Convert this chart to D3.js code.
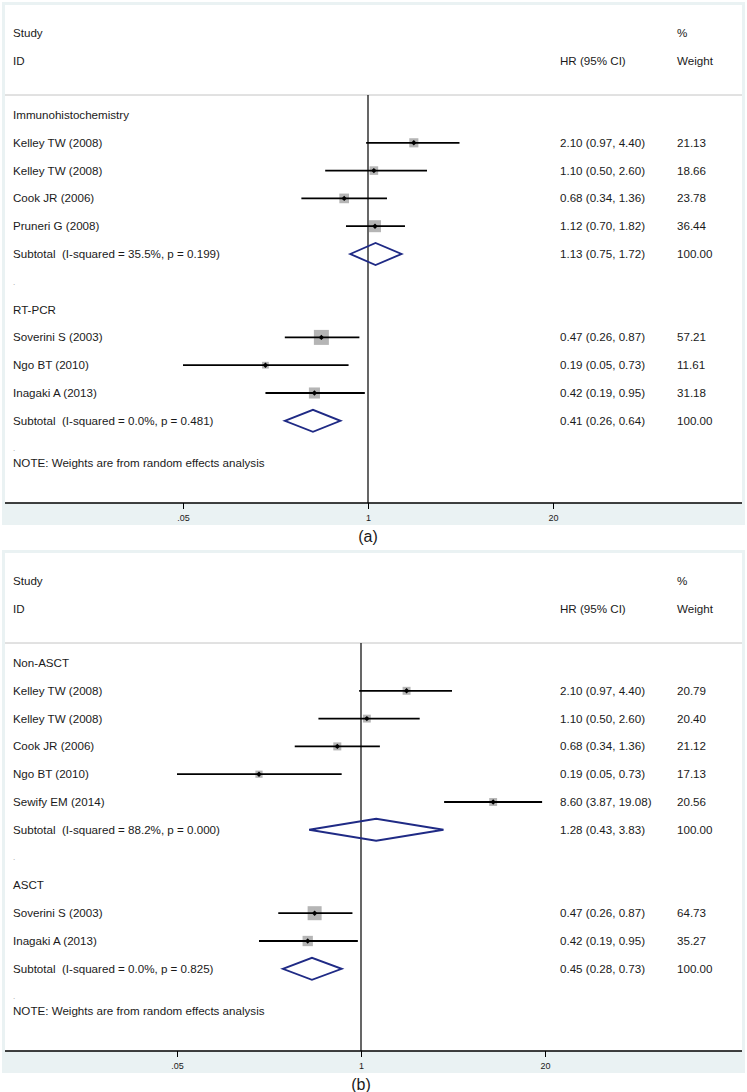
<!DOCTYPE html>
<html>
<head>
<meta charset="utf-8">
<script src="https://cdn.jsdelivr.net/npm/d3@7"></script>
<style>
  body { margin: 0; background: #fff; }
  text { font-family: "Liberation Sans", Arial, sans-serif; fill: #1a1a1a; white-space: pre; }
</style>
</head>
<body>
<div id="chart"></div>
<script>
// panel (a): by detection method
let studyA = ["Immunohistochemistry", "Kelley TW (2008)", "Kelley TW (2008)", "Cook JR (2006)", "Pruneri G (2008)",
  "Subtotal  (I-squared = 35.5%, p = 0.199)", ".", "RT-PCR", "Soverini S (2003)", "Ngo BT (2010)",
  "Inagaki A (2013)", "Subtotal  (I-squared = 0.0%, p = 0.481)"];
let kindA = ["group", "study", "study", "study", "study", "sub", "blank", "group", "study", "study", "study", "sub"];
let hrA = [null, 2.10, 1.10, 0.68, 1.12, 1.13, null, null, 0.47, 0.19, 0.42, 0.41];
let loA = [null, 0.97, 0.50, 0.34, 0.70, 0.75, null, null, 0.26, 0.05, 0.19, 0.26];
let hiA = [null, 4.40, 2.60, 1.36, 1.82, 1.72, null, null, 0.87, 0.73, 0.95, 0.64];
let weightA = [null, 21.13, 18.66, 23.78, 36.44, 100.00, null, null, 57.21, 11.61, 31.18, 100.00];

// panel (b): by treatment
let studyB = ["Non-ASCT", "Kelley TW (2008)", "Kelley TW (2008)", "Cook JR (2006)", "Ngo BT (2010)",
  "Sewify EM (2014)", "Subtotal  (I-squared = 88.2%, p = 0.000)", ".", "ASCT", "Soverini S (2003)",
  "Inagaki A (2013)", "Subtotal  (I-squared = 0.0%, p = 0.825)"];
let kindB = ["group", "study", "study", "study", "study", "study", "sub", "blank", "group", "study", "study", "sub"];
let hrB = [null, 2.10, 1.10, 0.68, 0.19, 8.60, 1.28, null, null, 0.47, 0.42, 0.45];
let loB = [null, 0.97, 0.50, 0.34, 0.05, 3.87, 0.43, null, null, 0.26, 0.19, 0.28];
let hiB = [null, 4.40, 2.60, 1.36, 0.73, 19.08, 3.83, null, null, 0.87, 0.95, 0.73];
let weightB = [null, 20.79, 20.40, 21.12, 17.13, 20.56, 100.00, null, null, 64.73, 35.27, 100.00];

let tickValues = [0.05, 1, 20];
let tickLabels = [".05", "1", "20"];
let note = "NOTE: Weights are from random effects analysis";

let W = 747, H = 1092;
let fs = 11.6;
let svg = d3.select("#chart").append("svg")
  .attr("width", W)
  .attr("height", H);

function panel(top, caption, study, kind, hr, lo, hi, weight, xRange, boxMax) {
  let g = svg.append("g").attr("transform", "translate(0," + top + ")");

  let rowY = i => 115 + i * 27.8;
  let x = d3.scaleLog().domain([0.05, 20]).range(xRange);
  let maxW = d3.max(weight.filter((w, i) => kind[i] == "study"));

  // graph region + plot region
  g.append("rect").attr("x", 2).attr("y", 2).attr("width", 743).attr("height", 523).attr("fill", "#eaf2f3");
  g.append("rect").attr("x", 5).attr("y", 5).attr("width", 737).attr("height", 498).attr("fill", "#fff");

  // header
  g.append("text").attr("x", 13).attr("y", 33).attr("dy", "0.35em").attr("font-size", fs).text("Study");
  g.append("text").attr("x", 13).attr("y", 61).attr("dy", "0.35em").attr("font-size", fs).text("ID");
  g.append("text").attr("x", 560).attr("y", 61).attr("dy", "0.35em").attr("font-size", fs).text("HR (95% CI)");
  g.append("text").attr("x", 677).attr("y", 33).attr("dy", "0.35em").attr("font-size", fs).text("%");
  g.append("text").attr("x", 677).attr("y", 61).attr("dy", "0.35em").attr("font-size", fs).text("Weight");
  g.append("line").attr("x1", 5).attr("x2", 742).attr("y1", 95).attr("y2", 95)
    .attr("stroke", "#c4c4c4").attr("stroke-width", 1);

  // null line
  g.append("line").attr("x1", x(1)).attr("x2", x(1)).attr("y1", 95).attr("y2", 503)
    .attr("stroke", "#000").attr("stroke-width", 1.2);

  let rows = study.map((s, i) => ({ s: s, kind: kind[i], hr: hr[i], lo: lo[i], hi: hi[i], w: weight[i], y: rowY(i) }));

  g.selectAll(".lab").data(rows).enter().append("text")
    .attr("x", 13).attr("y", d => d.y).attr("dy", "0.35em")
    .attr("font-size", d => d.kind == "blank" ? 8 : fs)
    .style("fill", d => d.kind == "blank" ? "#999" : "#1a1a1a")
    .text(d => d.s);

  let est = rows.filter(d => d.hr != null);
  let studies = est.filter(d => d.kind == "study");
  let subs = est.filter(d => d.kind == "sub");

  // weight boxes
  g.selectAll(".box").data(studies).enter().append("rect")
    .attr("x", d => x(d.hr) - boxMax * Math.sqrt(d.w / maxW) / 2)
    .attr("y", d => d.y - boxMax * Math.sqrt(d.w / maxW) / 2)
    .attr("width", d => boxMax * Math.sqrt(d.w / maxW))
    .attr("height", d => boxMax * Math.sqrt(d.w / maxW))
    .attr("fill", "#b5b5b5");

  // confidence intervals
  g.selectAll(".ci").data(studies).enter().append("line")
    .attr("x1", d => x(d.lo)).attr("x2", d => x(d.hi))
    .attr("y1", d => d.y).attr("y2", d => d.y)
    .attr("stroke", "#000").attr("stroke-width", 1.8);

  // point estimates
  g.selectAll(".pt").data(studies).enter().append("path")
    .attr("d", d => "M" + (x(d.hr) - 2.7) + "," + d.y + "L" + x(d.hr) + "," + (d.y - 2.7) +
      "L" + (x(d.hr) + 2.7) + "," + d.y + "L" + x(d.hr) + "," + (d.y + 2.7) + "Z")
    .attr("fill", "#000");

  // subtotal diamonds
  g.selectAll(".dia").data(subs).enter().append("path")
    .attr("d", d => "M" + x(d.lo) + "," + d.y + "L" + x(d.hr) + "," + (d.y - 11) +
      "L" + x(d.hi) + "," + d.y + "L" + x(d.hr) + "," + (d.y + 11) + "Z")
    .attr("fill", "none").attr("stroke", "#1f2a85").attr("stroke-width", 1.9);

  // HR and weight columns
  g.selectAll(".hrtxt").data(est).enter().append("text")
    .attr("x", 560).attr("y", d => d.y).attr("dy", "0.35em").attr("font-size", fs)
    .text(d => d.hr.toFixed(2) + " (" + d.lo.toFixed(2) + ", " + d.hi.toFixed(2) + ")");
  g.selectAll(".wtxt").data(est).enter().append("text")
    .attr("x", 677).attr("y", d => d.y).attr("dy", "0.35em").attr("font-size", fs)
    .text(d => d.w.toFixed(2));

  // note
  g.append("text").attr("x", 13).attr("y", rowY(12)).attr("dy", "0.35em").attr("font-size", 8)
    .style("fill", "#999").text(".");
  g.append("text").attr("x", 13).attr("y", rowY(12.5)).attr("dy", "0.35em").attr("font-size", fs).text(note);

  // axis
  g.append("line").attr("x1", 5).attr("x2", 742).attr("y1", 503).attr("y2", 503)
    .attr("stroke", "#000").attr("stroke-width", 1.5);
  let ax = g.append("g").attr("transform", "translate(0,503)")
    .call(d3.axisBottom(x).tickValues(tickValues).tickSize(6).tickPadding(6)
      .tickFormat((d, i) => tickLabels[i]));
  ax.select(".domain").remove();
  ax.selectAll(".tick line").attr("stroke", "#000").attr("stroke-width", 1);
  ax.selectAll(".tick text").attr("font-size", 9).style("fill", "#1a1a1a")
    .attr("font-family", "Liberation Sans, Arial, sans-serif");

  g.append("text").attr("x", x(1)).attr("y", 536).attr("dy", "0.35em")
    .attr("text-anchor", "middle").attr("font-size", 16).text(caption);
}

panel(0, "(a)", studyA, kindA, hrA, loA, hiA, weightA, [183, 553], 15);
panel(548, "(b)", studyB, kindB, hrB, loB, hiB, weightB, [177, 545], 14);
</script>
</body>
</html>
